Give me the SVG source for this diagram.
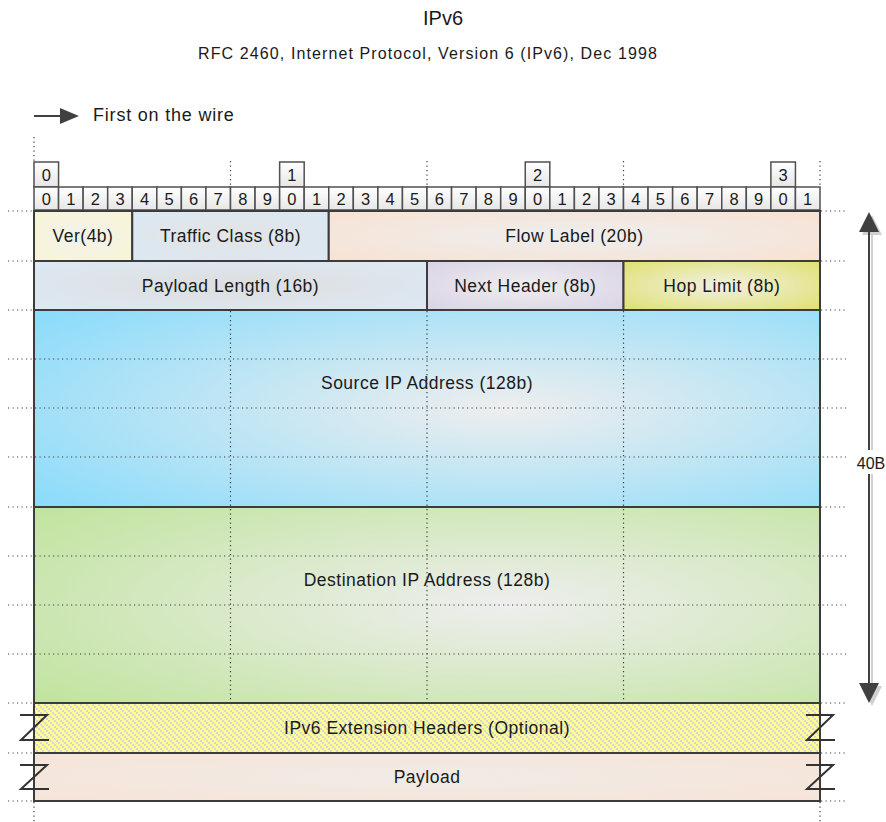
<svg xmlns="http://www.w3.org/2000/svg" width="886" height="822" viewBox="0 0 886 822">
<defs>
<style>
text{font-family:"Liberation Sans",Arial,sans-serif;fill:#1a1a1a}
.fl{font-size:17.5px;letter-spacing:0.5px;text-anchor:middle}
.bit{font-size:16.5px;text-anchor:middle}
.cell{fill:url(#gCell);stroke:#505050;stroke-width:1.5}
.box{stroke:#3c3c3c;stroke-width:2}
.dot{stroke:#404040;stroke-width:1.2;stroke-dasharray:1.2 3.3;fill:none}
.z{stroke:#333;stroke-width:2;fill:none}
</style>
<linearGradient id="gCell" x1="0" y1="0" x2="0" y2="1"><stop offset="0" stop-color="#ffffff"/><stop offset="1" stop-color="#e6e6e6"/></linearGradient>
<radialGradient id="gVer" cx="0.5" cy="0.5" r="0.7"><stop offset="0" stop-color="#f2f2ec"/><stop offset="1" stop-color="#f8f5d4"/></radialGradient>
<radialGradient id="gTC" cx="0.5" cy="0.5" r="0.7"><stop offset="0" stop-color="#e4e4e4"/><stop offset="1" stop-color="#dae8f4"/></radialGradient>
<radialGradient id="gFL" cx="0.5" cy="0.5" r="0.7"><stop offset="0" stop-color="#eeeeee"/><stop offset="1" stop-color="#f8e2d2"/></radialGradient>
<radialGradient id="gPL" cx="0.5" cy="0.5" r="0.7"><stop offset="0" stop-color="#dedede"/><stop offset="1" stop-color="#dde9f5"/></radialGradient>
<radialGradient id="gNH" cx="0.5" cy="0.5" r="0.7"><stop offset="0" stop-color="#eeeeee"/><stop offset="1" stop-color="#dad2e6"/></radialGradient>
<radialGradient id="gHL" cx="0.5" cy="0.5" r="0.7"><stop offset="0" stop-color="#f0f0e4"/><stop offset="1" stop-color="#e0e070"/></radialGradient>
<radialGradient id="gSrc" cx="0.6" cy="0.5" r="0.75"><stop offset="0" stop-color="#eeeeee"/><stop offset="1" stop-color="#8cdcfb"/></radialGradient>
<radialGradient id="gDst" cx="0.6" cy="0.5" r="0.75"><stop offset="0" stop-color="#eeeeee"/><stop offset="1" stop-color="#c2e4a0"/></radialGradient>
<radialGradient id="gPay" cx="0.5" cy="0.5" r="0.7"><stop offset="0" stop-color="#f0ebe6"/><stop offset="1" stop-color="#f7e4d8"/></radialGradient>
<pattern id="pExt" width="6" height="6" patternUnits="userSpaceOnUse">
<rect width="6" height="6" fill="#ffff94"/>
<rect x="0" y="0" width="2" height="2" fill="#d6d6d6"/>
<rect x="2" y="2" width="2" height="2" fill="#d6d6d6"/>
<rect x="4" y="4" width="2" height="2" fill="#d6d6d6"/>
</pattern>
</defs>
<rect width="886" height="822" fill="#ffffff"/>

<g id="title">
<text x="443" y="25" style="font-size:20px;text-anchor:middle">IPv6</text>
<text x="428" y="59" style="font-size:16px;letter-spacing:1.1px;text-anchor:middle">RFC 2460, Internet Protocol, Version 6 (IPv6), Dec 1998</text>
</g>

<g id="legend">
<line x1="34" y1="116" x2="62" y2="116" stroke="#404040" stroke-width="2"/>
<polygon points="60,108 79,116 60,124" fill="#404040"/>
<text x="93" y="121" style="font-size:18px;letter-spacing:0.8px">First on the wire</text>
</g>

<g id="guides">
<line class="dot" x1="34" y1="137" x2="34" y2="161"/>
<line class="dot" x1="230.5" y1="161" x2="230.5" y2="187"/>
<line class="dot" x1="427" y1="161" x2="427" y2="187"/>
<line class="dot" x1="623.5" y1="161" x2="623.5" y2="187"/>
<line class="dot" x1="820" y1="161" x2="820" y2="187"/>
<line class="dot" x1="34" y1="802" x2="34" y2="822"/>
<line class="dot" x1="820" y1="802" x2="820" y2="822"/>
<g>
<line class="dot" x1="8" y1="211" x2="34" y2="211"/><line class="dot" x1="821" y1="211" x2="846" y2="211"/>
<line class="dot" x1="8" y1="261" x2="34" y2="261"/><line class="dot" x1="821" y1="261" x2="846" y2="261"/>
<line class="dot" x1="8" y1="310" x2="34" y2="310"/><line class="dot" x1="821" y1="310" x2="846" y2="310"/>
<line class="dot" x1="8" y1="507" x2="34" y2="507"/><line class="dot" x1="821" y1="507" x2="846" y2="507"/>
<line class="dot" x1="8" y1="703" x2="34" y2="703"/><line class="dot" x1="821" y1="703" x2="846" y2="703"/>
<line class="dot" x1="8" y1="753" x2="34" y2="753"/><line class="dot" x1="821" y1="753" x2="846" y2="753"/>
<line class="dot" x1="8" y1="801" x2="34" y2="801"/><line class="dot" x1="821" y1="801" x2="846" y2="801"/>
</g>
</g>

<g id="bit-header">
<rect class="cell" x="34" y="162" width="24.56" height="25"/><text class="bit" x="46.3" y="181">0</text>
<rect class="cell" x="279.63" y="162" width="24.56" height="25"/><text class="bit" x="291.9" y="181">1</text>
<rect class="cell" x="525.25" y="162" width="24.56" height="25"/><text class="bit" x="537.5" y="181">2</text>
<rect class="cell" x="770.88" y="162" width="24.56" height="25"/><text class="bit" x="783.2" y="181">3</text>
<rect class="cell" x="34" y="187" width="24.56" height="23"/><text class="bit" x="46.3" y="205">0</text>
<rect class="cell" x="58.56" y="187" width="24.56" height="23"/><text class="bit" x="70.8" y="205">1</text>
<rect class="cell" x="83.13" y="187" width="24.56" height="23"/><text class="bit" x="95.4" y="205">2</text>
<rect class="cell" x="107.69" y="187" width="24.56" height="23"/><text class="bit" x="120" y="205">3</text>
<rect class="cell" x="132.25" y="187" width="24.56" height="23"/><text class="bit" x="144.5" y="205">4</text>
<rect class="cell" x="156.81" y="187" width="24.56" height="23"/><text class="bit" x="169.1" y="205">5</text>
<rect class="cell" x="181.38" y="187" width="24.56" height="23"/><text class="bit" x="193.7" y="205">6</text>
<rect class="cell" x="205.94" y="187" width="24.56" height="23"/><text class="bit" x="218.2" y="205">7</text>
<rect class="cell" x="230.5" y="187" width="24.56" height="23"/><text class="bit" x="242.8" y="205">8</text>
<rect class="cell" x="255.06" y="187" width="24.56" height="23"/><text class="bit" x="267.3" y="205">9</text>
<rect class="cell" x="279.63" y="187" width="24.56" height="23"/><text class="bit" x="291.9" y="205">0</text>
<rect class="cell" x="304.19" y="187" width="24.56" height="23"/><text class="bit" x="316.5" y="205">1</text>
<rect class="cell" x="328.75" y="187" width="24.56" height="23"/><text class="bit" x="341" y="205">2</text>
<rect class="cell" x="353.31" y="187" width="24.56" height="23"/><text class="bit" x="365.6" y="205">3</text>
<rect class="cell" x="377.88" y="187" width="24.56" height="23"/><text class="bit" x="390.2" y="205">4</text>
<rect class="cell" x="402.44" y="187" width="24.56" height="23"/><text class="bit" x="414.7" y="205">5</text>
<rect class="cell" x="427" y="187" width="24.56" height="23"/><text class="bit" x="439.3" y="205">6</text>
<rect class="cell" x="451.56" y="187" width="24.56" height="23"/><text class="bit" x="463.8" y="205">7</text>
<rect class="cell" x="476.13" y="187" width="24.56" height="23"/><text class="bit" x="488.4" y="205">8</text>
<rect class="cell" x="500.69" y="187" width="24.56" height="23"/><text class="bit" x="513" y="205">9</text>
<rect class="cell" x="525.25" y="187" width="24.56" height="23"/><text class="bit" x="537.5" y="205">0</text>
<rect class="cell" x="549.81" y="187" width="24.56" height="23"/><text class="bit" x="562.1" y="205">1</text>
<rect class="cell" x="574.38" y="187" width="24.56" height="23"/><text class="bit" x="586.7" y="205">2</text>
<rect class="cell" x="598.94" y="187" width="24.56" height="23"/><text class="bit" x="611.2" y="205">3</text>
<rect class="cell" x="623.5" y="187" width="24.56" height="23"/><text class="bit" x="635.8" y="205">4</text>
<rect class="cell" x="648.06" y="187" width="24.56" height="23"/><text class="bit" x="660.3" y="205">5</text>
<rect class="cell" x="672.63" y="187" width="24.56" height="23"/><text class="bit" x="684.9" y="205">6</text>
<rect class="cell" x="697.19" y="187" width="24.56" height="23"/><text class="bit" x="709.5" y="205">7</text>
<rect class="cell" x="721.75" y="187" width="24.56" height="23"/><text class="bit" x="734" y="205">8</text>
<rect class="cell" x="746.31" y="187" width="24.56" height="23"/><text class="bit" x="758.6" y="205">9</text>
<rect class="cell" x="770.88" y="187" width="24.56" height="23"/><text class="bit" x="783.2" y="205">0</text>
<rect class="cell" x="795.44" y="187" width="24.56" height="23"/><text class="bit" x="807.7" y="205">1</text>
</g>

<g id="ver"><rect class="box" x="34" y="211" width="98.25" height="50" fill="url(#gVer)"/><text class="fl" x="83" y="242">Ver(4b)</text></g>
<g id="traffic-class"><rect class="box" x="132.25" y="211" width="196.5" height="50" fill="url(#gTC)"/><text class="fl" x="230.5" y="242">Traffic Class (8b)</text></g>
<g id="flow-label"><rect class="box" x="328.75" y="211" width="491.25" height="50" fill="url(#gFL)"/><text class="fl" x="574.4" y="242">Flow Label (20b)</text></g>
<g id="payload-length"><rect class="box" x="34" y="261" width="393" height="49" fill="url(#gPL)"/><text class="fl" x="230.5" y="292">Payload Length (16b)</text></g>
<g id="next-header"><rect class="box" x="427" y="261" width="196.5" height="49" fill="url(#gNH)"/><text class="fl" x="525.3" y="292">Next Header (8b)</text></g>
<g id="hop-limit"><rect class="box" x="623.5" y="261" width="196.5" height="49" fill="url(#gHL)"/><text class="fl" x="721.8" y="292">Hop Limit (8b)</text></g>
<g id="source"><rect class="box" x="34" y="310" width="786" height="197" fill="url(#gSrc)"/><text class="fl" x="427" y="389">Source IP Address (128b)</text></g>
<g id="destination"><rect class="box" x="34" y="507" width="786" height="196" fill="url(#gDst)"/><text class="fl" x="427" y="586">Destination IP Address (128b)</text></g>
<g id="extension"><rect class="box" x="34" y="703" width="786" height="50" fill="url(#pExt)"/><text class="fl" x="427" y="734">IPv6 Extension Headers (Optional)</text></g>
<g id="payload"><rect class="box" x="34" y="753" width="786" height="48" fill="url(#gPay)"/><text class="fl" x="427" y="783">Payload</text></g>

<g id="grid">
<line class="dot" x1="230.5" y1="311" x2="230.5" y2="702"/>
<line class="dot" x1="427" y1="311" x2="427" y2="702"/>
<line class="dot" x1="623.5" y1="311" x2="623.5" y2="702"/>
<line class="dot" x1="8" y1="359" x2="846" y2="359"/>
<line class="dot" x1="8" y1="408" x2="846" y2="408"/>
<line class="dot" x1="8" y1="457" x2="846" y2="457"/>
<line class="dot" x1="8" y1="556" x2="846" y2="556"/>
<line class="dot" x1="8" y1="605" x2="846" y2="605"/>
<line class="dot" x1="8" y1="654" x2="846" y2="654"/>
</g>

<g id="breaks">
<path class="z" d="M20,715 H47 L21,740 H49"/>
<path class="z" d="M20,765 H47 L21,789 H49"/>
<path class="z" d="M806,715 H833 L807,740 H835"/>
<path class="z" d="M806,765 H833 L807,789 H835"/>
</g>

<g id="connectors">
<g opacity="0.18" transform="translate(3,3)">
<line x1="869" y1="228" x2="869" y2="688" stroke="#000" stroke-width="2"/>
<polygon points="869,212 859,232 879,232" fill="#000"/>
<polygon points="869,703 859,683 879,683" fill="#000"/>
</g>
<line x1="869" y1="228" x2="869" y2="688" stroke="#404040" stroke-width="2"/>
<polygon points="869,212 859,232 879,232" fill="#404040"/>
<polygon points="869,703 859,683 879,683" fill="#404040"/>
<rect x="856" y="450" width="30" height="24" fill="#ffffff"/>
<text x="871" y="469" style="font-size:16px;text-anchor:middle">40B</text>
</g>
</svg>
